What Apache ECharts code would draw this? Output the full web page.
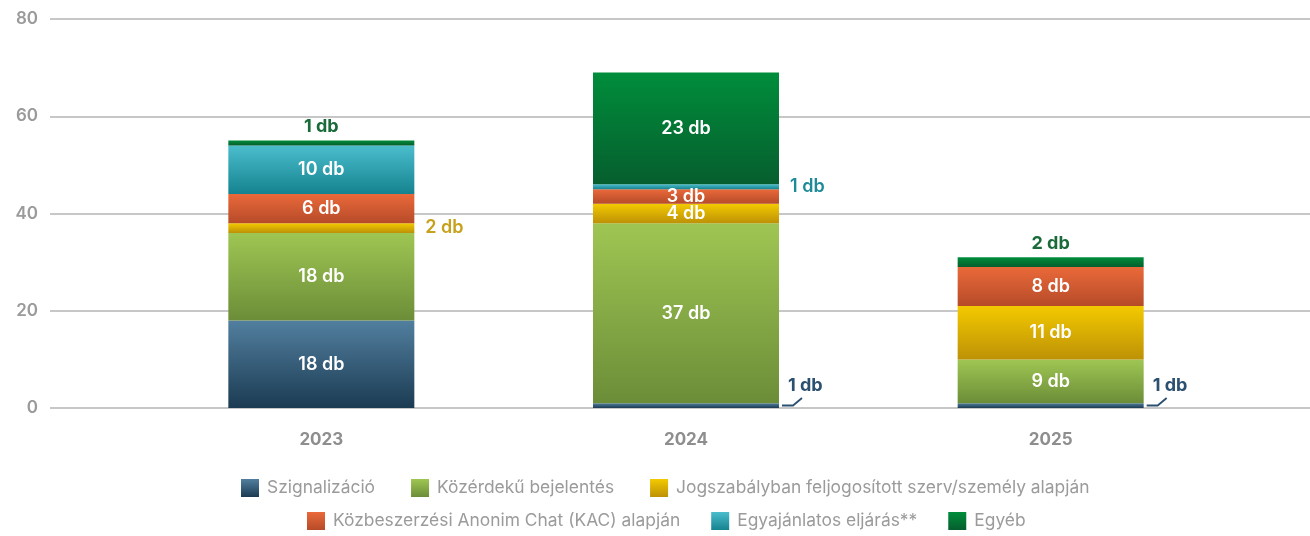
<!DOCTYPE html>
<html>
<head>
<meta charset="utf-8">
<script src="https://cdn.jsdelivr.net/npm/echarts@6/dist/echarts.min.js"></script>
<style>
html,body{margin:0;padding:0;background:#fff;}
#chart{width:1310px;height:536px;}
</style>
</head>
<body>
<div id="chart"></div>
<script>
const categories = ['2023', '2024', '2025'];
const seriesNames = ['Szignalizáció', 'Közérdekű bejelentés', 'Jogszabályban feljogosított szerv/személy alapján', 'Közbeszerzési Anonim Chat (KAC) alapján', 'Egyajánlatos eljárás**', 'Egyéb'];
const szignalizacio = [18, 1, 1];
const kozerdeku = [18, 37, 9];
const jogszabaly = [2, 4, 11];
const kac = [6, 3, 8];
const egyajanlatos = [10, 1, 0];
const egyeb = [1, 23, 2];
const yTicks = [0, 20, 40, 60, 80];
const unit = ' db';

const values = [szignalizacio, kozerdeku, jogszabaly, kac, egyajanlatos, egyeb];
const gradients = [
  ['#527f9f', '#1b3b52'],
  ['#9fc653', '#6c8d38'],
  ['#f3ca00', '#bd9106'],
  ['#ea693a', '#b64b29'],
  ['#4bbdcd', '#15838f'],
  ['#008d3b', '#065e2e']
];
const outColors = ['#2b5070', '#6c8d38', '#c7a01c', '#b64b29', '#1f8b99', '#1a6b3a'];
const BAR_W = 186;

function grad(c) {
  return new echarts.graphic.LinearGradient(0, 0, 0, 1, [
    {offset: 0, color: c[0]}, {offset: 1, color: c[1]}
  ]);
}

const font = 'Inter, "Noto Sans", sans-serif';
const LS = 18;

function makeItem(si, v) {
  const item = {value: v};
  if (v === 0) {
    item.label = {show: false};
  } else if (v >= 3) {
    item.label = {show: true, position: 'inside', color: '#fff', fontSize: LS, fontWeight: 600, fontFamily: font};
  } else if (si === 5) {
    item.label = {show: true, position: 'top', distance: 5, color: outColors[si], fontSize: LS, fontWeight: 700, fontFamily: font};
  } else if (si === 0) {
    item.label = {show: true, position: 'right', distance: 9, color: outColors[si], fontSize: LS, fontWeight: 700, fontFamily: font};
  } else {
    item.label = {show: true, position: 'right', distance: 11, color: outColors[si], fontSize: LS, fontWeight: 600, fontFamily: font};
  }
  return item;
}

const series = seriesNames.map((name, si) => ({
  name: name,
  type: 'bar',
  stack: 'total',
  xAxisIndex: 1,
  yAxisIndex: 1,
  barWidth: BAR_W,
  itemStyle: {color: grad(gradients[si])},
  label: {formatter: (p) => p.value + unit},
  labelLayout: si === 0 ? function (p) {
    if (values[0][p.dataIndex] < 3) return {dy: -20};
    return {};
  } : undefined,
  emphasis: {disabled: true},
  data: values[si].map(v => makeItem(si, v))
}));

// leader lines for the small bottom segments
const leaderData = [];
szignalizacio.forEach((v, i) => { if (v > 0 && v < 3) leaderData.push([i, v]); });
series.push({
  type: 'custom',
  xAxisIndex: 1,
  yAxisIndex: 1,
  silent: true,
  z: 5,
  data: leaderData,
  renderItem: function (params, api) {
    const p = api.coord([api.value(0), 0]);
    const x = p[0] + BAR_W / 2;
    const y = p[1];
    return {
      type: 'polyline',
      shape: {points: [[x + 3, y - 2.5], [x + 14, y - 2.5], [x + 23, y - 10]]},
      style: {stroke: outColors[0], lineWidth: 1.8, fill: null}
    };
  }
});

const legendText = {color: '#9b9b9b', fontSize: 17.4, fontFamily: font, padding: [0, 0, 0, 3]};

const option = {
  animation: false,
  grid: [
    {left: 50, right: 0, top: 19, bottom: 128},
    {left: 139, right: 77, top: 19, bottom: 128}
  ],
  xAxis: [
    {gridIndex: 0, type: 'value', show: false, min: 0, max: 1},
    {gridIndex: 1, type: 'category', data: categories,
      axisLine: {show: false}, axisTick: {show: false},
      axisLabel: {margin: 23, color: '#8e8e8e', fontSize: 17, fontWeight: 700, fontFamily: font}}
  ],
  yAxis: [
    {gridIndex: 0, type: 'value', min: yTicks[0], max: yTicks[yTicks.length - 1], interval: yTicks[1] - yTicks[0],
      axisLine: {show: false}, axisTick: {show: false},
      axisLabel: {margin: 12, color: '#9a9a9a', fontSize: 17, fontWeight: 600, fontFamily: font},
      splitLine: {lineStyle: {color: '#b4b4b4', width: 1.5}}},
    {gridIndex: 1, type: 'value', min: yTicks[0], max: yTicks[yTicks.length - 1], show: false, splitLine: {show: false}}
  ],
  legend: [
    {data: seriesNames.slice(0, 3), left: 241, top: 479, padding: 0, itemWidth: 18, itemHeight: 18, itemGap: 36, icon: 'rect', textStyle: legendText, selectedMode: false},
    {data: seriesNames.slice(3), left: 307, top: 512, padding: 0, itemWidth: 18, itemHeight: 18, itemGap: 31, icon: 'rect', textStyle: legendText, selectedMode: false}
  ],
  series: series
};

const chart = echarts.init(document.getElementById('chart'), null, {renderer: 'canvas'});
chart.setOption(option);
</script>
</body>
</html>
